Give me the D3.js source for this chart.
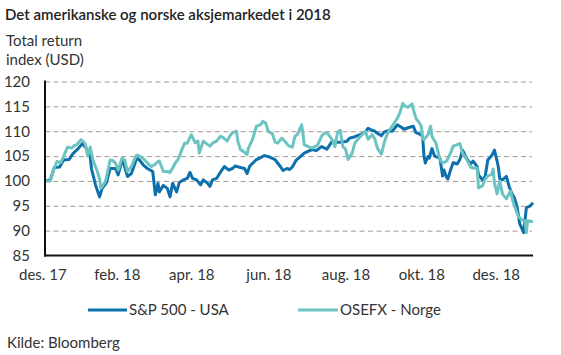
<!DOCTYPE html>
<html>
<head>
<meta charset="utf-8">
<script src="https://cdn.jsdelivr.net/npm/d3@7"></script>
<style>
  html, body { margin: 0; padding: 0; background: #fff; }
  svg { display: block; }
  text { font-family: "Lato", "Open Sans", sans-serif; fill: #333; }
</style>
</head>
<body>
<svg id="chart" width="561" height="355"></svg>
<script>
// ---- data ----
const title = "Det amerikanske og norske aksjemarkedet i 2018";
const yTitle = ["Total return", "index (USD)"];
const source = "Kilde: Bloomberg";
const seriesNames = ["S&P 500 - USA", "OSEFX - Norge"];
const yTicks = [85, 90, 95, 100, 105, 110, 115, 120];
const xTickDates = ["2017-12-27", "2018-02-21", "2018-04-18", "2018-06-15", "2018-08-12", "2018-10-08", "2018-12-03"];
const xTickLabels = ["des. 17", "feb. 18", "apr. 18", "jun. 18", "aug. 18", "okt. 18", "des. 18"];

const spx = [
["2017-12-29",100],["2018-01-02",100.2],["2018-01-05",102.7],["2018-01-09",102.8],["2018-01-12",104.2],
["2018-01-16",104.3],["2018-01-19",105.5],["2018-01-23",106.5],["2018-01-26",107.5],["2018-01-29",106.6],
["2018-02-01",104.9],["2018-02-02",102.4],["2018-02-05",99.2],["2018-02-08",96.8],["2018-02-10",98.5],
["2018-02-13",99.5],["2018-02-16",102.5],["2018-02-20",102.5],["2018-02-22",101.2],["2018-02-25",104.2],
["2018-02-26",103.7],["2018-03-01",100.9],["2018-03-04",101.5],["2018-03-08",104.6],["2018-03-10",104.2],
["2018-03-13",103.2],["2018-03-16",102.5],["2018-03-20",101.9],["2018-03-22",97.2],["2018-03-24",99.5],
["2018-03-25",97.8],["2018-03-28",99.1],["2018-03-31",98.5],["2018-04-02",96.8],["2018-04-04",99.5],
["2018-04-07",97.8],["2018-04-09",99.7],["2018-04-12",100.2],["2018-04-15",100.5],["2018-04-17",101.7],
["2018-04-19",100.5],["2018-04-22",100.2],["2018-04-25",99.2],["2018-04-27",100.2],["2018-04-30",99.6],
["2018-05-02",98.9],["2018-05-04",100.2],["2018-05-07",100.5],["2018-05-11",102.2],["2018-05-13",102.9],
["2018-05-16",102.2],["2018-05-19",102.5],["2018-05-21",103.0],["2018-05-25",102.7],["2018-05-28",102.5],
["2018-05-30",101.5],["2018-06-01",103.0],["2018-06-03",103.5],["2018-06-06",104.3],["2018-06-10",104.8],
["2018-06-12",105.1],["2018-06-16",104.8],["2018-06-20",104.3],["2018-06-24",102.9],["2018-06-26",102.1],
["2018-06-29",102.5],["2018-07-01",102.3],["2018-07-03",102.8],["2018-07-06",104.2],["2018-07-09",104.9],
["2018-07-12",105.6],["2018-07-16",106.1],["2018-07-18",106.3],["2018-07-21",106.1],["2018-07-25",106.9],
["2018-07-29",106.4],["2018-08-02",108.0],["2018-08-05",107.8],["2018-08-09",107.8],["2018-08-13",108.0],
["2018-08-15",108.6],["2018-08-19",108.9],["2018-08-23",109.3],["2018-08-27",109.9],["2018-08-29",110.6],
["2018-09-01",110.2],["2018-09-03",110.0],["2018-09-05",109.6],["2018-09-08",109.1],["2018-09-10",109.8],
["2018-09-13",110.1],["2018-09-16",110.0],["2018-09-18",110.6],["2018-09-20",111.3],["2018-09-23",110.8],
["2018-09-25",110.4],["2018-09-28",110.7],["2018-10-02",111.0],["2018-10-04",109.7],["2018-10-07",109.4],
["2018-10-09",109.0],["2018-10-10",105.0],["2018-10-11",103.6],["2018-10-13",104.9],["2018-10-14",104.6],
["2018-10-16",106.5],["2018-10-18",105.0],["2018-10-22",104.6],["2018-10-24",101.0],["2018-10-25",102.2],
["2018-10-27",100.7],["2018-10-28",100.4],["2018-10-30",102.2],["2018-11-01",103.7],["2018-11-04",103.4],
["2018-11-06",104.3],["2018-11-08",106.2],["2018-11-11",104.6],["2018-11-14",103.4],["2018-11-16",104.0],
["2018-11-19",102.9],["2018-11-20",101.2],["2018-11-23",100.2],["2018-11-25",100.9],["2018-11-27",104.2],
["2018-11-30",105.1],["2018-12-02",106.2],["2018-12-04",104.0],["2018-12-05",102.7],["2018-12-06",100.4],
["2018-12-08",100.2],["2018-12-11",100.9],["2018-12-13",98.9],["2018-12-15",97.5],["2018-12-17",96.6],
["2018-12-19",94.8],["2018-12-21",91.4],["2018-12-24",89.6],["2018-12-26",94.6],["2018-12-29",95.0],
["2018-12-31",95.6]
];

const osefx = [
["2017-12-29",100],["2018-01-02",100],["2018-01-04",101.9],["2018-01-07",103.9],["2018-01-10",103.7],
["2018-01-13",105.6],["2018-01-15",106.8],["2018-01-18",106.6],["2018-01-20",107.1],["2018-01-22",107.3],
["2018-01-25",108.3],["2018-01-28",107.6],["2018-01-29",106.6],["2018-01-30",105.0],["2018-02-01",106.8],
["2018-02-03",104.2],["2018-02-06",102.2],["2018-02-08",100.5],["2018-02-09",98.5],["2018-02-12",99.7],
["2018-02-13",100.5],["2018-02-16",104.2],["2018-02-18",104.1],["2018-02-20",103.6],["2018-02-22",102.2],
["2018-02-25",104.6],["2018-02-27",104.2],["2018-03-01",101.9],["2018-03-04",102.9],["2018-03-06",104.2],
["2018-03-08",105.2],["2018-03-11",104.9],["2018-03-14",104.2],["2018-03-16",103.6],["2018-03-19",102.9],
["2018-03-21",103.2],["2018-03-24",103.9],["2018-03-25",104.0],["2018-03-28",101.9],["2018-03-31",101.9],
["2018-04-02",101.7],["2018-04-04",102.6],["2018-04-06",103.6],["2018-04-08",104.3],["2018-04-11",106.3],
["2018-04-13",107.6],["2018-04-15",107.6],["2018-04-18",109.3],["2018-04-21",107.7],["2018-04-23",108.0],
["2018-04-24",105.6],["2018-04-27",108.0],["2018-04-30",107.4],["2018-05-02",107.0],["2018-05-04",107.6],
["2018-05-07",108.0],["2018-05-10",109.0],["2018-05-12",108.7],["2018-05-15",108.0],["2018-05-17",109.0],
["2018-05-19",109.7],["2018-05-22",110.0],["2018-05-23",108.0],["2018-05-25",106.3],["2018-05-27",106.0],
["2018-05-30",105.3],["2018-05-31",106.6],["2018-06-03",108.3],["2018-06-06",111.0],["2018-06-09",111.3],
["2018-06-11",112.0],["2018-06-13",111.6],["2018-06-15",109.9],["2018-06-18",109.5],["2018-06-20",107.8],
["2018-06-22",107.6],["2018-06-25",108.6],["2018-06-28",107.8],["2018-06-30",107.1],["2018-07-03",106.8],
["2018-07-05",109.0],["2018-07-07",109.4],["2018-07-10",111.3],["2018-07-11",109.5],["2018-07-12",107.3],
["2018-07-15",106.9],["2018-07-18",106.6],["2018-07-22",107.2],["2018-07-25",109.0],["2018-07-27",109.6],
["2018-07-29",109.7],["2018-08-02",108.3],["2018-08-04",106.9],["2018-08-06",109.8],["2018-08-08",110.2],
["2018-08-10",106.9],["2018-08-12",106.4],["2018-08-14",104.3],["2018-08-17",105.6],["2018-08-19",107.6],
["2018-08-21",108.3],["2018-08-24",109.2],["2018-08-27",110.0],["2018-08-29",108.4],["2018-09-01",109.3],
["2018-09-03",108.5],["2018-09-05",106.6],["2018-09-08",105.4],["2018-09-10",107.6],["2018-09-12",109.2],
["2018-09-14",110.2],["2018-09-17",111.4],["2018-09-20",112.6],["2018-09-22",113.8],["2018-09-24",115.6],
["2018-09-26",115.0],["2018-09-28",114.8],["2018-10-01",115.5],["2018-10-02",114.4],["2018-10-04",112.6],
["2018-10-06",111.9],["2018-10-08",111.0],["2018-10-09",108.5],["2018-10-10",108.3],["2018-10-13",109.3],
["2018-10-15",111.0],["2018-10-16",109.0],["2018-10-19",107.6],["2018-10-22",104.3],["2018-10-24",103.6],
["2018-10-27",104.0],["2018-10-29",105.0],["2018-11-01",107.0],["2018-11-04",107.3],["2018-11-06",107.5],
["2018-11-08",105.6],["2018-11-11",104.4],["2018-11-14",102.8],["2018-11-16",102.6],["2018-11-19",102.6],
["2018-11-20",98.6],["2018-11-23",99.0],["2018-11-25",100.4],["2018-11-27",101.0],["2018-11-30",101.3],
["2018-12-01",102.4],["2018-12-02",99.6],["2018-12-04",97.4],["2018-12-06",100.0],["2018-12-08",97.4],
["2018-12-11",96.4],["2018-12-14",98.0],["2018-12-16",95.8],["2018-12-17",95.0],["2018-12-20",92.8],
["2018-12-23",92.1],["2018-12-25",92.0],["2018-12-26",89.6],["2018-12-27",92.0],["2018-12-31",91.8]
];

// ---- layout ----
const parse = d3.timeParse("%Y-%m-%d");
const colors = ["#0d6fab", "#6cc4c2"];
const mLeft = 45, mRight = 533, mTop = 81.5, mBottom = 255.5;

const svg = d3.select("#chart");

const x = d3.scaleTime()
  .domain([parse("2017-12-29"), parse("2018-12-31")])
  .range([mLeft, mRight]);
const y = d3.scaleLinear().domain([85, 120]).range([mBottom, mTop]);

// title
svg.append("text").attr("x", 5).attr("y", 20)
  .style("font-size", "15px").style("font-weight", 600).style("fill", "#222")
  .text(title);

// y title
svg.append("text").attr("x", 6).attr("y", 46).style("font-size", "15px").text(yTitle[0]);
svg.append("text").attr("x", 6).attr("y", 65).style("font-size", "15px").text(yTitle[1]);

// gridlines
svg.append("g")
  .attr("transform", `translate(${mLeft},0)`)
  .call(d3.axisLeft(y).tickValues(yTicks.filter(v => v > 85)).tickSize(-(mRight - 1 - mLeft)).tickFormat(""))
  .call(g => g.select(".domain").remove())
  .call(g => g.selectAll("line").attr("stroke", "#a39a94").attr("stroke-width", 1).attr("stroke-dasharray", "5,3.5"));

// y labels
svg.append("g")
  .attr("transform", `translate(${mLeft},0)`)
  .call(d3.axisLeft(y).tickValues(yTicks).tickSize(0).tickPadding(15))
  .call(g => g.select(".domain").remove())
  .call(g => g.selectAll("text").style("font-size", "15px").style("fill", "#333").style("font-family", "Lato, 'Open Sans', sans-serif"));

// x labels
svg.append("g")
  .attr("transform", `translate(0,${mBottom})`)
  .call(d3.axisBottom(x).tickValues(xTickDates.map(parse)).tickSize(0).tickPadding(14)
    .tickFormat((d, i) => xTickLabels[i]))
  .call(g => g.select(".domain").remove())
  .call(g => g.selectAll("text").style("font-size", "15px").style("fill", "#333").style("font-family", "Lato, 'Open Sans', sans-serif"));

// lines
const line = d3.line().x(d => x(parse(d[0]))).y(d => y(d[1]));
[spx, osefx].forEach((s, i) => {
  svg.append("path").datum(s)
    .attr("fill", "none").attr("stroke", colors[i]).attr("stroke-width", 3)
    .attr("stroke-linejoin", "round")
    .attr("d", line);
});

// axes lines
svg.append("line").attr("x1", mLeft).attr("x2", mLeft).attr("y1", mTop - 1).attr("y2", mBottom + 1)
  .attr("stroke", "#111").attr("stroke-width", 2);
svg.append("line").attr("x1", mLeft - 1).attr("x2", mRight).attr("y1", mBottom).attr("y2", mBottom)
  .attr("stroke", "#111").attr("stroke-width", 2);

// legend
const legendItems = [{x1: 88, x2: 127, tx: 129}, {x1: 298, x2: 338, tx: 340}];
legendItems.forEach((l, i) => {
  svg.append("line").attr("x1", l.x1).attr("x2", l.x2).attr("y1", 310).attr("y2", 310)
    .attr("stroke", colors[i]).attr("stroke-width", 3);
  svg.append("text").attr("x", l.tx).attr("y", 315).style("font-size", "15px").text(seriesNames[i]);
});

// source
svg.append("text").attr("x", 7).attr("y", 348).style("font-size", "15px").text(source);
</script>
</body>
</html>
